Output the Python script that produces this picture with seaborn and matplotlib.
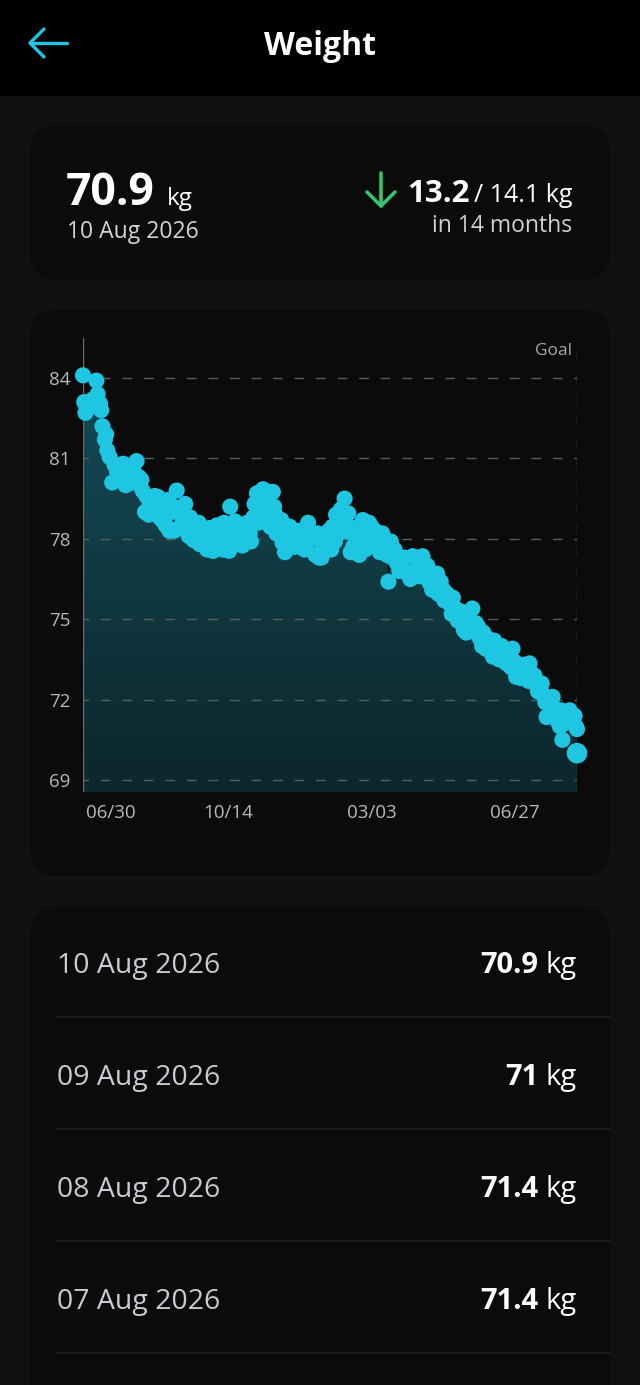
import matplotlib
matplotlib.use("Agg")
import matplotlib.pyplot as plt
import numpy as np
import seaborn as sns
from matplotlib.colors import LinearSegmentedColormap
from matplotlib.patches import FancyBboxPatch, Rectangle


# weight log, day 0 = first entry
days = [
    0, 1, 2, 5, 8, 11, 12, 14, 15, 16,
    18, 19, 20, 22, 24, 26, 28, 30, 33, 35,
    36, 39, 41, 42, 44, 46, 48, 49, 51, 52,
    54, 55, 57, 59, 60, 62, 63, 65, 66, 68,
    70, 71, 72, 74, 75, 77, 78, 79, 80, 82,
    84, 85, 87, 88, 90, 91, 93, 95, 96, 97,
    99, 100, 102, 103, 104, 106, 107, 109, 110, 112,
    113, 115, 116, 118, 119, 120, 121, 123, 125, 126,
    128, 129, 131, 133, 135, 137, 138, 140, 141, 143,
    144, 145, 147, 148, 150, 151, 153, 154, 155, 156,
    157, 158, 159, 160, 162, 163, 164, 166, 167, 169,
    170, 172, 174, 176, 178, 180, 182, 184, 185, 187,
    189, 191, 193, 194, 196, 197, 199, 200, 202, 203,
    204, 205, 207, 208, 210, 211, 212, 214, 215, 217,
    218, 219, 220, 222, 224, 226, 227, 229, 230, 232,
    234, 235, 237, 238, 240, 242, 244, 246, 248, 250,
    251, 253, 254, 256, 258, 260, 262, 264, 267, 269,
    271, 273, 275, 277, 279, 281, 283, 285, 287, 288,
    291, 292, 294, 296, 297, 299, 301, 303, 304, 306,
    308, 310, 312, 313, 315, 317, 318, 320, 321, 323,
    325, 326, 328, 329, 331, 332, 333, 335, 337, 338,
    340, 342, 344, 345, 346, 348, 349, 351, 352, 353,
    355, 356, 357, 359, 360, 362, 363, 365, 366, 367,
    368, 370, 371, 373, 374, 375, 377, 378, 380, 381,
    383, 384, 386, 387, 389, 390, 392, 393, 394, 395,
    397, 400, 403, 404, 405, 406,
]
weights = [
    84.1, 83.1, 82.7, 82.9, 83.2, 83.9, 83.4, 83.05, 82.8, 82.2,
    81.7, 81.9, 81.3, 81.05, 80.1, 80.75, 80.5, 80.4, 80.8, 80.0,
    80.3, 80.6, 80.1, 80.5, 80.9, 80.3, 80.2, 79.8, 79.0, 79.6,
    78.9, 79.3, 79.45, 79.6, 79.2, 79.55, 78.8, 78.7, 79.3, 78.5,
    79.45, 78.3, 79.0, 79.2, 78.3, 79.8, 79.1, 78.4, 78.9, 79.1,
    79.3, 78.5, 78.1, 78.8, 78.65, 77.95, 78.3, 78.6, 77.8, 78.15,
    78.4, 77.9, 77.6, 77.95, 78.4, 78.1, 77.55, 77.8, 78.5, 78.3,
    77.7, 77.6, 78.6, 78.0, 78.3, 77.55, 79.2, 78.3, 78.65, 78.0,
    78.5, 77.85, 77.75, 78.0, 78.6, 78.2, 77.9, 78.8, 79.3, 79.7,
    78.6, 79.1, 79.5, 79.85, 79.0, 79.7, 79.75, 78.45, 79.1, 79.75,
    79.2, 78.9, 78.2, 78.75, 78.3, 78.7, 77.85, 77.5, 77.6, 78.0,
    78.45, 78.25, 77.7, 77.85, 78.3, 78.1, 77.6, 77.85, 78.6, 78.0,
    78.2, 77.4, 78.2, 77.3, 77.3, 77.7, 78.1, 77.95, 78.3, 77.7,
    77.6, 78.45, 77.9, 78.9, 78.2, 78.8, 79.1, 79.0, 79.5, 78.5,
    78.95, 78.25, 77.5, 77.7, 78.4, 78.0, 77.4, 77.6, 78.7, 77.6,
    78.2, 78.6, 78.45, 77.85, 78.3, 77.9, 77.5, 78.2, 77.7, 77.4,
    76.4, 77.9, 77.3, 77.6, 77.1, 76.8, 77.0, 77.3, 76.7, 76.5,
    77.35, 76.8, 77.2, 76.6, 77.35, 76.85, 77.0, 76.35, 76.1, 76.5,
    76.7, 75.95, 76.4, 76.1, 75.7, 75.95, 75.6, 75.2, 75.8, 75.4,
    74.95, 75.3, 74.8, 74.6, 74.5, 75.1, 74.9, 75.4, 74.6, 74.85,
    74.7, 74.3, 74.0, 74.5, 73.9, 74.3, 74.1, 73.8, 73.6, 74.2,
    73.8, 73.5, 74.0, 73.7, 73.5, 73.35, 73.7, 73.6, 73.2, 73.9,
    73.4, 72.85, 73.1, 73.25, 72.8, 73.0, 73.3, 72.9, 72.7, 73.35,
    73.0, 72.7, 72.9, 72.5, 72.3, 72.4, 72.6, 72.2, 71.9, 71.35,
    72.0, 71.8, 72.1, 71.7, 71.5, 71.2, 71.0, 71.6, 70.5, 71.1,
    71.3, 71.6, 71.4, 71.4, 71.0, 70.9,
]

goal_day = 406
goal_weight = 70.0

y_ticks = [69, 72, 75, 78, 81, 84]
x_tick_days = [23, 119, 237, 355]
x_tick_labels = ["06/30", "10/14", "03/03", "06/27"]

recent_dates = ["10 Aug 2026", "09 Aug 2026", "08 Aug 2026", "07 Aug 2026"]
recent_values = ["70.9", "71", "71.4", "71.4"]

CYAN = "#1fc6e2"
PAGE_BG = "#111111"
CARD_BG = "#0b0b0b"
GRID = "#5c5c5c"
FONT = ["Open Sans", "DejaVu Sans"]

W, H = 640, 1385

sns.set_theme(style="dark")
plt.rcParams["font.family"] = FONT
plt.rcParams["lines.scale_dashes"] = False

fig = plt.figure(figsize=(W / 100, H / 100), dpi=100, facecolor=PAGE_BG)

# full-figure canvas in pixel coordinates for the app chrome
bg = fig.add_axes([0, 0, 1, 1])
bg.set_xlim(0, W)
bg.set_ylim(H, 0)
bg.axis("off")
bg.set_facecolor(PAGE_BG)

bg.add_patch(Rectangle((0, 0), W, 95, color="#000000", zorder=1))


def card(y0, y1):
    bg.add_patch(
        FancyBboxPatch(
            (30, y0), 580, y1 - y0,
            boxstyle="round,pad=0,rounding_size=28",
            facecolor=CARD_BG, edgecolor="none", zorder=1,
        )
    )


card(125, 280)
card(310, 876)
card(907, 1430)

# header
bg.plot([30, 67], [43, 43], color=CYAN, lw=2.4, solid_capstyle="round", zorder=2)
bg.plot([44, 30, 44], [29, 43, 57], color=CYAN, lw=2.4,
        solid_capstyle="round", solid_joinstyle="round", zorder=2)
bg.text(320, 55, "Weight", color="white", fontsize=23, fontweight="bold",
        ha="center", va="baseline", zorder=2)

# summary card
bg.text(66, 205, "70.9", color="white", fontsize=32, fontweight="bold",
        va="baseline", zorder=2)
bg.text(167, 205, "kg", color="white", fontsize=17.5, va="baseline", zorder=2)
bg.text(67, 238, "10 Aug 2026", color="#d4d4d4", fontsize=16.5,
        va="baseline", zorder=2)

green = "#35c46c"
bg.plot([381, 381], [173, 206], color=green, lw=2.6, solid_capstyle="round", zorder=2)
bg.plot([367, 381, 395], [192, 206, 192], color=green, lw=2.6,
        solid_capstyle="round", solid_joinstyle="round", zorder=2)
bg.text(407, 202, "13.2", color="white", fontsize=22.5, fontweight="bold",
        va="baseline", zorder=2)
bg.text(572, 202, "/ 14.1 kg", color="white", fontsize=18, ha="right",
        va="baseline", zorder=2)
bg.text(572, 232, "in 14 months", color="#d0d0d0", fontsize=16.5, ha="right",
        va="baseline", zorder=2)

# recent entries list
for i, (d, v) in enumerate(zip(recent_dates, recent_values)):
    base = 973 + i * 112
    bg.text(57, base, d, color="#c6cad2", fontsize=20.5, va="baseline", zorder=2)
    bg.text(538, base, v, color="white", fontsize=21, fontweight="bold",
            ha="right", va="baseline", zorder=2)
    bg.text(546, base, "kg", color="white", fontsize=21, va="baseline", zorder=2)
    bg.plot([57, 610], [base + 44, base + 44], color="#1e1e1e", lw=1.2, zorder=2)

# chart axes placed to match the reference pixel box
ax_left, ax_right, ax_top, ax_bottom = 83, 577, 338, 792
ax = fig.add_axes([
    ax_left / W, 1 - ax_bottom / H,
    (ax_right - ax_left) / W, (ax_bottom - ax_top) / H,
])
ax.patch.set_alpha(0)

px_per_kg = 26.8
y_hi = 84 + (378 - ax_top) / px_per_kg
y_lo = 69 - (ax_bottom - 780) / px_per_kg
ax.set_xlim(0, goal_day)
ax.set_ylim(y_lo, y_hi)

# gradient area under the series
area = ax.fill_between(days, weights, y_lo, color="none", lw=0)
cmap = LinearSegmentedColormap.from_list("fill", ["#0c262c", "#144c57"])
grad = ax.imshow(
    np.linspace(0, 1, 256).reshape(-1, 1),
    cmap=cmap, aspect="auto", origin="lower",
    extent=[0, goal_day, y_lo, 84.5], zorder=1,
)
grad.set_clip_path(area.get_paths()[0], transform=ax.transData)
ax.set_xlim(0, goal_day)
ax.set_ylim(y_lo, y_hi)

for yv in y_ticks:
    ax.axhline(yv, color=GRID, lw=1, ls=(3, (7, 8.5)), zorder=2)
ax.axvline(goal_day, color=GRID, lw=1, ls=(0, (7, 8.5)), zorder=2)
ax.axvline(0, color="#6a6a6a", lw=1, zorder=2)

sns.scatterplot(x=days, y=weights, ax=ax, s=135, color=CYAN, edgecolor="none",
                linewidth=0, clip_on=False, zorder=4)
sns.scatterplot(x=[goal_day], y=[goal_weight], ax=ax, s=220, color=CYAN,
                edgecolor="none", linewidth=0, clip_on=False, zorder=5)

ax.set_yticks(y_ticks)
ax.set_yticklabels([str(v) for v in y_ticks])
ax.set_xticks(x_tick_days)
ax.set_xticklabels(x_tick_labels)
ax.tick_params(axis="both", length=0, colors="#b8b8b8", labelsize=13.5)
ax.tick_params(axis="y", pad=9)
ax.tick_params(axis="x", pad=9)
ax.grid(False)
for side in ["left", "right", "top", "bottom"]:
    ax.spines[side].set_visible(False)
ax.set_xlabel("")
ax.set_ylabel("")

ax.text(goal_day - 4, y_hi - 0.5, "Goal", color="#a8a8a8", fontsize=12.5,
        ha="right", va="center")

fig.savefig("out.png", dpi=100, facecolor=PAGE_BG)
